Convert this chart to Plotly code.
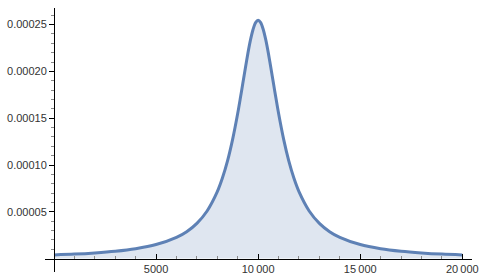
import plotly.graph_objects as go

# curve (x, density)
x_vals = [0, 1000, 2000, 3000, 4000, 5000, 6000, 6500, 7000, 7500, 8000, 8250,
          8500, 8750, 9000, 9125, 9250, 9375, 9500, 9625, 9750, 9875, 10000,
          10125, 10250, 10375, 10500, 10625, 10750, 10875, 11000, 11250, 11500,
          11750, 12000, 12500, 13000, 13500, 14000, 15000, 16000, 17000, 18000,
          19000, 20000]
y_vals = [3.9e-6, 4.8e-6, 6.1e-6, 7.9e-6, 1.06e-5, 1.50e-5, 2.27e-5, 2.88e-5,
          3.77e-5, 5.09e-5, 7.15e-5, 8.60e-5, 1.043e-4, 1.273e-4, 1.552e-4,
          1.709e-4, 1.872e-4, 2.037e-4, 2.195e-4, 2.336e-4, 2.448e-4, 2.521e-4,
          2.546e-4, 2.521e-4, 2.448e-4, 2.336e-4, 2.195e-4, 2.037e-4, 1.872e-4,
          1.709e-4, 1.552e-4, 1.273e-4, 1.043e-4, 8.60e-5, 7.15e-5, 5.09e-5,
          3.77e-5, 2.88e-5, 2.27e-5, 1.50e-5, 1.06e-5, 7.9e-6, 6.1e-6, 4.8e-6,
          3.9e-6]

x_ticks = [5000, 10000, 15000, 20000]
x_ticklabels = ["5000", "10\u2009000", "15\u2009000", "20\u2009000"]
y_ticks = [0.00005, 0.00010, 0.00015, 0.00020, 0.00025]
y_ticklabels = ["0.00005", "0.00010", "0.00015", "0.00020", "0.00025"]

x_range = [-440, 20475]
y_range = [-1.43e-5, 2.677e-4]

line_col = "#5E81B5"

fig = go.Figure()
fig.add_trace(go.Scatter(
    x=x_vals, y=y_vals,
    mode="lines",
    line=dict(color=line_col, width=3, shape="spline", smoothing=0.8),
    fill="tozeroy",
    fillcolor="rgba(94,129,181,0.2)",
    showlegend=False,
    hoverinfo="skip"
))

# axes cross at the origin, Mathematica style
x_pos = (0 - y_range[0]) / (y_range[1] - y_range[0])
y_pos = (0 - x_range[0]) / (x_range[1] - x_range[0])

fig.update_layout(
    width=484, height=280,
    margin=dict(l=45, r=12, t=8, b=8),
    paper_bgcolor="white", plot_bgcolor="white",
    font=dict(family="Liberation Sans, Arial, sans-serif", size=11, color="#333333"),
    xaxis=dict(
        range=x_range, anchor="free", position=x_pos, automargin=False,
        showline=True, linecolor="black", linewidth=1,
        showgrid=False, zeroline=False,
        tickmode="array", tickvals=x_ticks, ticktext=x_ticklabels,
        ticks="inside", ticklen=5, tickcolor="black", tickwidth=1,
        minor=dict(tickmode="array",
                   tickvals=[v for v in range(1000, 20001, 1000) if v % 5000],
                   ticks="inside", ticklen=3, tickcolor="#888888"),
    ),
    yaxis=dict(
        range=y_range, anchor="free", position=y_pos, automargin=False,
        showline=True, linecolor="black", linewidth=1,
        showgrid=False, zeroline=False,
        tickmode="array", tickvals=y_ticks, ticktext=y_ticklabels,
        ticks="outside", ticklen=5, tickcolor="black", tickwidth=1,
        minor=dict(tickmode="array",
                   tickvals=[k * 1e-5 for k in range(1, 27) if k % 5],
                   ticks="outside", ticklen=3, tickcolor="#888888"),
    ),
)

# the page body has a default 8px margin; drop it so the figure sits at 0,0
fig.write_html("out.html", config={"displayModeBar": False},
               post_script="document.body.style.margin='0px';")
